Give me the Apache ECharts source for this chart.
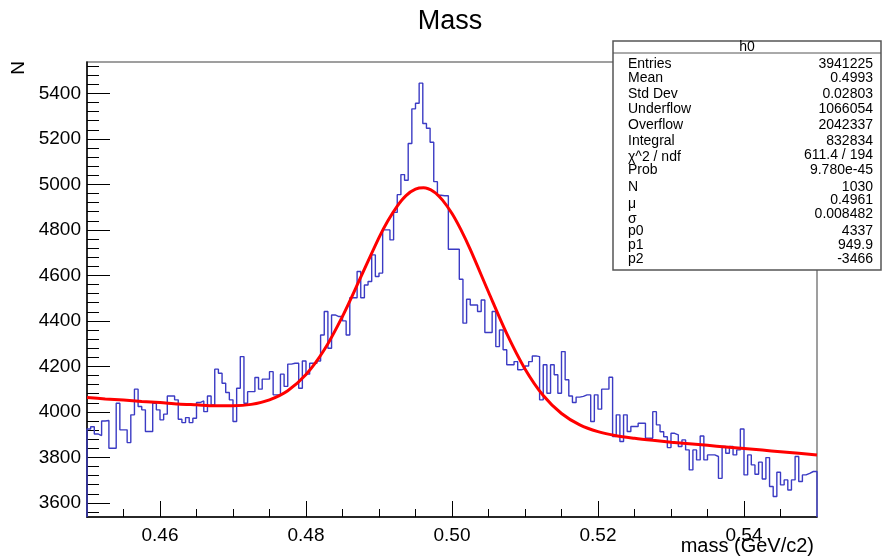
<!DOCTYPE html>
<html>
<head>
<meta charset="utf-8">
<title>Mass</title>
<script src="https://cdn.jsdelivr.net/npm/echarts@6/dist/echarts.min.js"></script>
<style>
    html, body { margin: 0; padding: 0; background: #fff; }
    #main { width: 884px; height: 558px; }
</style>
</head>
<body>
<div id="main"></div>
<script>
// histogram h0 : 200 bins between 0.45 and 0.55
const xMin = 0.45, xMax = 0.55, binWidth = 0.0005;
const yMin = 3538, yMax = 5538;

const counts = [
    3925, 3935, 3903, 3896, 3960, 3962, 3840, 3840, 4038, 3921,
    3921, 3865, 3987, 4100, 4024, 4009, 3914, 3914, 4038, 4009,
    3965, 3990, 4070, 4070, 4053, 3968, 3953, 3975, 3953, 3972,
    4041, 4048, 4001, 4070, 4031, 4188, 4170, 4126, 4085, 4053,
    3958, 4104, 4243, 4038, 4089, 4089, 4151, 4100, 4144, 4144,
    4177, 4075, 4075, 4166, 4112, 4210, 4214, 4214, 4104, 4224,
    4166, 4214, 4214, 4224, 4338, 4441, 4280, 4426, 4419, 4419,
    4400, 4338, 4502, 4502, 4617, 4502, 4558, 4573, 4690, 4595,
    4610, 4800, 4800, 4756, 4877, 4955, 5043, 5018, 5180, 5332,
    5357, 5445, 5268, 5247, 5185, 5012, 4952, 4950, 4950, 4715,
    4715, 4715, 4583, 4390, 4495, 4470, 4470, 4441, 4492, 4349,
    4349, 4441, 4287, 4360, 4273, 4207, 4207, 4221, 4185, 4190,
    4202, 4221, 4246, 4243, 4053, 4207, 4082, 4207, 4163, 4082,
    4265, 4141, 4070, 4041, 4065, 4068, 4075, 4075, 3958, 4075,
    4012, 4100, 4100, 4152, 3892, 3987, 3870, 3987, 3914, 3936,
    3936, 3950, 3950, 3884, 3884, 4001, 3943, 3913, 3891, 3843,
    3906, 3899, 3848, 3877, 3833, 3745, 3833, 3789, 3894, 3789,
    3811, 3811, 3804, 3708, 3848, 3818, 3848, 3811, 3833, 3925,
    3723, 3811, 3767, 3726, 3779, 3705, 3799, 3672, 3628, 3735,
    3679, 3701, 3657, 3701, 3804, 3694, 3723, 3730, 3738, 3738
];

// fit curve (gaus + pol2)
const fitX = [
    0.4500, 0.4525, 0.4550, 0.4575, 0.4600, 0.4625, 0.4650, 0.4675, 0.4700, 0.4725,
    0.4750, 0.4775, 0.4800, 0.4825, 0.4850, 0.4875, 0.4900, 0.4912, 0.4925, 0.4937,
    0.4950, 0.4961, 0.4975, 0.4987, 0.5000, 0.5012, 0.5025, 0.5050, 0.5075, 0.5100,
    0.5125, 0.5150, 0.5175, 0.5200, 0.5225, 0.5250, 0.5275, 0.5300, 0.5325, 0.5350,
    0.5375, 0.5400, 0.5425, 0.5450, 0.5475, 0.5500
];
const fitY = [
    4063, 4057, 4052, 4046, 4041, 4035, 4031, 4027, 4027, 4033,
    4053, 4093, 4164, 4273, 4420, 4592, 4766, 4839, 4905, 4951,
    4979, 4985, 4968, 4931, 4872, 4802, 4714, 4527, 4344, 4189,
    4072, 3993, 3943, 3913, 3895, 3884, 3875, 3867, 3860, 3853,
    3846, 3839, 3832, 3825, 3818, 3811
];

const xTicks = [0.46, 0.48, 0.50, 0.52, 0.54];
const yTicks = [3600, 3800, 4000, 4200, 4400, 4600, 4800, 5000, 5200, 5400];

const statLabels = ['Entries', 'Mean', 'Std Dev', 'Underflow', 'Overflow', 'Integral',
    'χ^2 / ndf', 'Prob', 'N', 'μ', 'σ', 'p0', 'p1', 'p2'];
const statValues = ['3941225', '0.4993', '0.02803', '1066054', '2042337', '832834',
    '611.4 / 194', '9.780e-45', '1030', '0.4961', '0.008482', '4337', '949.9', '-3466'];

// minor ticks
let xMinor = [], yMinor = [];
for (let k = 1; k < 20; k++) {
    let v = Math.round((xMin + k * 0.005) * 1000) / 1000;
    if (xTicks.indexOf(v) < 0) xMinor.push(v);
}
for (let v = 3560; v < yMax; v += 40) {
    if (v % 200 !== 0) yMinor.push(v);
}

let histData = [[xMin, yMin]];
counts.forEach(function (c, i) { histData.push([xMin + i * binWidth, c]); });
histData.push([xMax, counts[counts.length - 1]]);
histData.push([xMax, yMin]);

const font = '"Liberation Sans", Arial, sans-serif';

// stats box rows
const labelY = [64, 78, 94, 109, 125, 141, 157, 170, 187, 204, 219, 231, 245, 259];
const valueY = [64, 78, 94, 109, 125, 141, 155, 170, 187, 200, 214, 231, 245, 259];
let statGraphics = [
    {type: 'rect', shape: {x: 613, y: 41, width: 268, height: 229},
        style: {fill: '#fff', stroke: '#555', lineWidth: 1.5}, z: 10},
    {type: 'line', shape: {x1: 613, y1: 53, x2: 881, y2: 53},
        style: {stroke: '#555', lineWidth: 1}, z: 11},
    {type: 'text', x: 747, y: 47, z: 11,
        style: {text: 'h0', font: '14px ' + font, fill: '#000',
            align: 'center', verticalAlign: 'middle', textAlign: 'center', textVerticalAlign: 'middle'}}
];
statLabels.forEach(function (t, i) {
    statGraphics.push({type: 'text', x: 628, y: labelY[i], z: 11,
        style: {text: t, font: '14px ' + font, fill: '#000',
            align: 'left', verticalAlign: 'middle', textAlign: 'left', textVerticalAlign: 'middle'}});
    statGraphics.push({type: 'text', x: 873, y: valueY[i], z: 11,
        style: {text: statValues[i], font: '14px ' + font, fill: '#000',
            align: 'right', verticalAlign: 'middle', textAlign: 'right', textVerticalAlign: 'middle'}});
});

let myChart = echarts.init(document.getElementById('main'));
myChart.setOption({
    animation: false,
    backgroundColor: '#fff',
    grid: {left: 87, top: 62, width: 730, height: 455, show: true,
        borderColor: '#808080', borderWidth: 1.5, backgroundColor: 'transparent'},
    xAxis: [
        {
            type: 'value', min: xMin, max: xMax, position: 'bottom',
            axisLine: {show: true, lineStyle: {color: '#000', width: 1.5}},
            axisTick: {show: true, inside: true, length: 16, customValues: xTicks,
                lineStyle: {color: '#000', width: 1}},
            axisLabel: {customValues: xTicks, formatter: function (v) { return v.toFixed(2); },
                fontSize: 19, fontFamily: font, color: '#000', margin: 9},
            splitLine: {show: false}
        },
        {
            type: 'value', min: xMin, max: xMax, position: 'bottom', offset: 0,
            axisLine: {show: false},
            axisTick: {show: true, inside: true, length: 8, customValues: xMinor,
                lineStyle: {color: '#000', width: 1}},
            axisLabel: {show: false},
            splitLine: {show: false}
        }
    ],
    yAxis: [
        {
            type: 'value', min: yMin, max: yMax, position: 'left',
            axisLine: {show: true, lineStyle: {color: '#000', width: 1.5}},
            axisTick: {show: true, inside: true, length: 23, customValues: yTicks,
                lineStyle: {color: '#000', width: 1}},
            axisLabel: {customValues: yTicks, formatter: function (v) { return String(v); },
                fontSize: 19, fontFamily: font, color: '#000', margin: 6},
            splitLine: {show: false}
        },
        {
            type: 'value', min: yMin, max: yMax, position: 'left', offset: 0,
            axisLine: {show: false},
            axisTick: {show: true, inside: true, length: 12, customValues: yMinor,
                lineStyle: {color: '#000', width: 1}},
            axisLabel: {show: false},
            splitLine: {show: false}
        }
    ],
    series: [
        {
            name: 'h0', type: 'line', step: 'end', data: histData,
            xAxisIndex: 0, yAxisIndex: 0,
            symbol: 'none', clip: true,
            lineStyle: {color: '#3b3bc4', width: 1.4},
            z: 2
        },
        {
            name: 'fit', type: 'line', smooth: 0.3,
            data: fitX.map(function (x, i) { return [x, fitY[i]]; }),
            xAxisIndex: 0, yAxisIndex: 0,
            symbol: 'none', clip: true,
            lineStyle: {color: '#ff0000', width: 3},
            z: 3
        }
    ],
    graphic: [
        {type: 'text', x: 450, y: 22,
            style: {text: 'Mass', font: '27px ' + font, fill: '#000',
                align: 'center', verticalAlign: 'middle', textAlign: 'center', textVerticalAlign: 'middle'}},
        {type: 'text', x: 19, y: 68, rotation: Math.PI / 2,
            style: {text: 'N', font: '19px ' + font, fill: '#000',
                align: 'center', verticalAlign: 'middle', textAlign: 'center', textVerticalAlign: 'middle'}},
        {type: 'text', x: 814, y: 546,
            style: {text: 'mass (GeV/c2)', font: '20px ' + font, fill: '#000',
                align: 'right', verticalAlign: 'middle', textAlign: 'right', textVerticalAlign: 'middle'}}
    ].concat(statGraphics)
});
</script>
</body>
</html>
